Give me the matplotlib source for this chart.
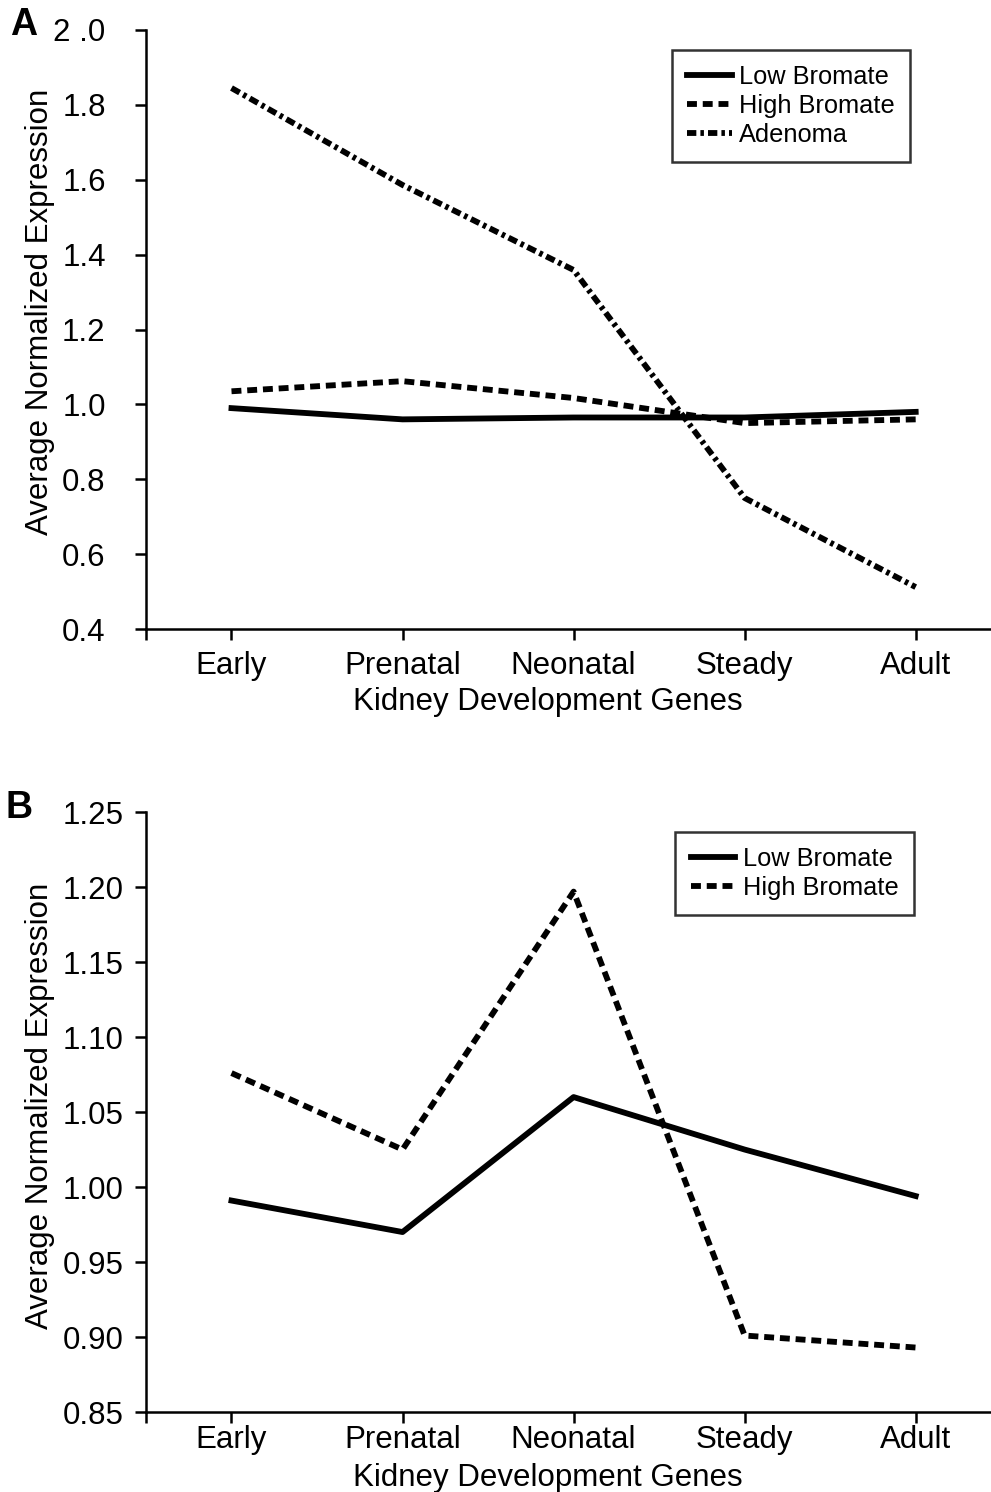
import numpy as np
import matplotlib.pyplot as plt

plt.rcParams['font.family'] = ['Liberation Sans', 'DejaVu Sans']

stages = ['Early', 'Prenatal', 'Neonatal', 'Steady', 'Adult']

# panel A
low_a = [0.99, 0.96, 0.965, 0.965, 0.98]
high_a = [1.035, 1.062, 1.017, 0.95, 0.96]
adenoma_a = [1.845, 1.586, 1.359, 0.75, 0.512]

# panel B
low_b = [0.991, 0.970, 1.060, 1.025, 0.994]
high_b = [1.076, 1.025, 1.197, 0.901, 0.893]

LW = 4.2
DASHED = (0, (1.7, 1.0))
DASHDOT = (0, (1.6, 0.7, 0.6, 0.7))


def style_axis(ax, ymin, ymax, step, fmt, labels, ypad, xpad, ylab_y, xlab_y):
    x = np.arange(len(stages))
    ax.set_xlim(-0.5, len(stages) - 0.5)
    ax.set_ylim(ymin, ymax)
    ax.set_xticks(np.concatenate(([-0.5], x)))
    ax.set_xticklabels([''] + stages)
    ticks = np.arange(ymin, ymax + step / 2, step)
    ax.set_yticks(ticks)
    ax.set_yticklabels(labels if labels else [fmt.format(t) for t in ticks])
    ax.spines['top'].set_visible(False)
    ax.spines['right'].set_visible(False)
    for s in ['left', 'bottom']:
        ax.spines[s].set_linewidth(1.8)
    ax.tick_params(direction='out', length=8, width=1.8, labelsize=22.5)
    ax.tick_params(axis='x', pad=xpad)
    ax.tick_params(axis='y', pad=ypad)
    ax.set_xlabel('Kidney Development Genes', fontsize=22.5)
    ax.set_ylabel('Average Normalized Expression', fontsize=22.5)
    ax.yaxis.set_label_coords(-0.106, ylab_y)
    ax.xaxis.set_label_coords(0.470, xlab_y)


def add_legend(ax, x0):
    leg = ax.legend(loc='upper left', bbox_to_anchor=(x0, 0.967), fontsize=18.3,
                    frameon=True, fancybox=False, handlelength=1.75, handletextpad=0.3,
                    borderpad=0.6, labelspacing=0.2, edgecolor='black',
                    borderaxespad=0)
    leg.get_frame().set_linewidth(1.8)
    return leg


fig = plt.figure(figsize=(9.91, 14.92), dpi=100)
x = np.arange(len(stages))

axA = fig.add_axes([0.1473, 0.5784, 0.863, 0.4015])
axA.plot(x, low_a, color='black', lw=LW, label='Low Bromate')
axA.plot(x, high_a, color='black', lw=LW, linestyle=DASHED, label='High Bromate')
axA.plot(x, adenoma_a, color='black', lw=LW, linestyle=DASHDOT, label='Adenoma')
style_axis(axA, 0.4, 2.0, 0.2, '{:.1f}',
           ['0.4', '0.6', '0.8', '1.0', '1.2', '1.4', '1.6', '1.8', '2 .0'],
           ypad=21, xpad=8, ylab_y=0.53, xlab_y=-0.097)
add_legend(axA, 0.615)

axB = fig.add_axes([0.1473, 0.0536, 0.863, 0.4021])
axB.plot(x, low_b, color='black', lw=LW, label='Low Bromate')
axB.plot(x, high_b, color='black', lw=LW, linestyle=DASHED, label='High Bromate')
style_axis(axB, 0.85, 1.25, 0.05, '{:.2f}', None, ypad=8, xpad=1, ylab_y=0.51,
           xlab_y=-0.085)
add_legend(axB, 0.619)

fig.text(0.024, 0.983, 'A', fontsize=27, fontweight='bold', ha='center', va='center')
fig.text(0.019, 0.4585, 'B', fontsize=27, fontweight='bold', ha='center', va='center')

fig.savefig('out.png', dpi=100)
